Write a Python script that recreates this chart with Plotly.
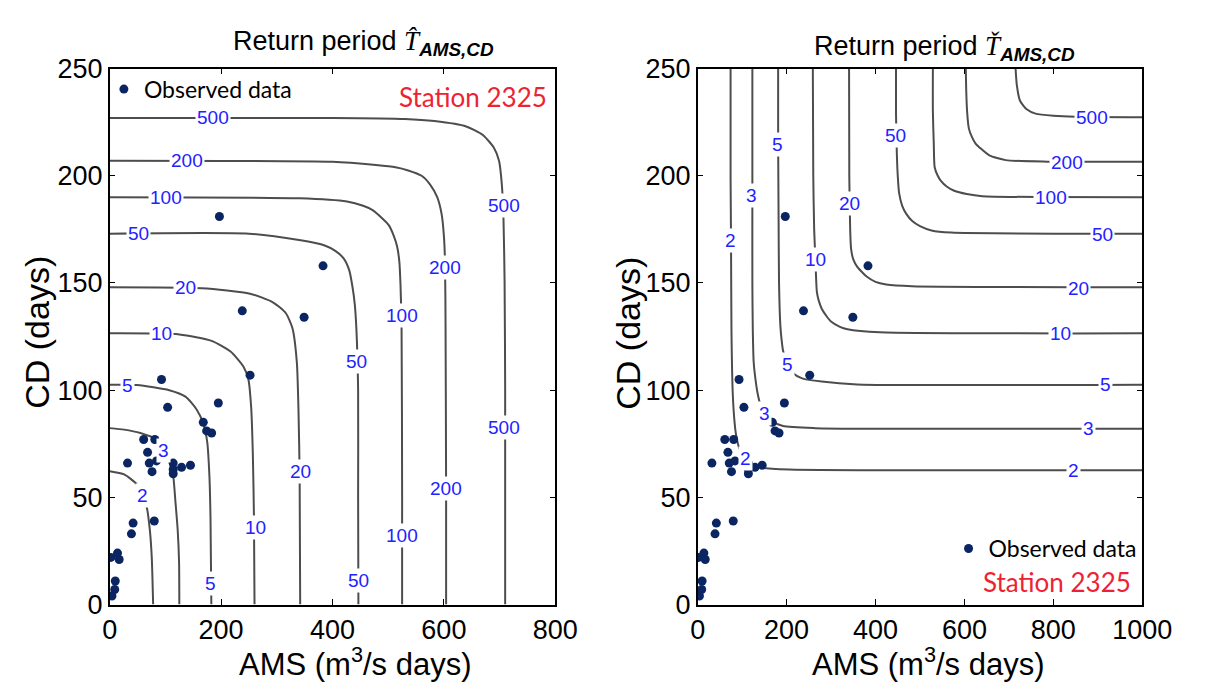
import plotly.graph_objects as go

# Observed (AMS, CD) pairs for station 2325
ams_obs = [197, 383, 238, 349, 252, 93, 195, 104, 168, 174, 183, 61, 81, 68, 84, 71,
           32, 114, 129, 145, 114, 114, 76, 80, 42, 39, 14, 2, 17, 10, 9, 4]
cd_obs = [181, 158, 137, 134, 107, 105, 94, 92, 85, 81, 80, 77, 77, 71, 67, 66,
          66, 66, 64, 65, 63, 61, 62, 39, 38, 33, 24, 22, 21, 11, 7, 4]

return_periods = [2, 3, 5, 10, 20, 50, 100, 200, 500]

# "OR" return-period isolines (left panel), traced point by point
hat_ams = {
    2: [0, 26, 49, 58, 66, 72, 75.5, 78],
    3: [0, 26, 55, 84, 96, 107, 114, 118, 122, 124.5, 125],
    5: [0, 49, 107, 136, 156, 168, 175, 179, 181, 182.5],
    10: [0, 125, 183, 217, 240, 249, 254, 257, 259, 260],
    20: [0, 165, 252, 293, 316, 328, 336, 339, 341, 342],
    50: [0, 250, 340, 386, 405, 420, 430, 436, 440, 443, 446, 446, 446.5],
    100: [0, 340, 426, 455, 472, 490, 501, 510, 516, 520, 522, 524, 525, 525],
    200: [0, 400, 478, 513, 536, 560, 575, 588, 596, 600, 602, 603, 604, 604],
    500: [0, 400, 530, 583, 640, 670, 690, 699, 704, 707, 709, 710, 710],
}
hat_cd = {
    2: [62.2, 60.7, 56, 51, 46, 35, 22, 0],
    3: [82.3, 81.6, 80, 77, 73, 66.7, 60, 48, 35, 20, 0],
    5: [102.5, 102.4, 100, 97, 91, 84.5, 76, 60, 40, 0],
    10: [126.5, 126, 123, 118, 111, 105, 92, 70, 40, 0],
    20: [148, 147.5, 145, 141, 136, 129, 113, 90, 60, 0],
    50: [173, 173, 170, 167.5, 165, 161.5, 156, 148, 140, 128, 100, 50, 0],
    100: [190, 189.5, 188, 186, 184, 180, 177, 172, 167, 160, 150, 130, 50, 0],
    200: [207, 206.5, 205, 204, 202.5, 200, 196, 190, 182, 172, 160, 130, 50, 0],
    500: [227, 227, 226.5, 225.5, 223, 219, 213, 207, 196, 180, 150, 100, 0],
}

# "AND" return-period isolines (right panel)
chk_ams = {
    2: [74, 74, 75, 76, 79, 83, 86.5, 94, 108, 125, 141, 206, 627, 1000],
    3: [123, 123, 123, 124, 126, 130, 134, 140, 150, 166, 192, 264, 410, 1000],
    5: [181, 181, 182, 183, 186, 189, 192, 198, 206, 214, 235, 279, 359, 1000],
    10: [259, 260, 262, 265, 268, 272, 279, 290, 300, 320, 337, 410, 1000],
    20: [340.5, 341, 343, 345, 350, 359, 370, 380, 400, 424, 482, 1000],
    50: [446, 446, 448, 450, 453, 460, 470, 482, 500, 526, 570, 1000],
    100: [529, 529, 531, 533, 540, 547, 560, 577, 605, 640, 1000],
    200: [603, 604, 606, 610, 617, 625, 635, 656, 693, 787, 1000],
    500: [715, 718, 725, 740, 760, 800, 850, 1000],
}
chk_cd = {
    2: [250, 200, 170, 128, 98, 85, 79, 72.6, 68, 65.5, 64, 63, 62.6, 62.6],
    3: [250, 190, 150, 128, 113, 105, 99.4, 94, 89, 85.7, 83.3, 82.3, 82, 82],
    5: [250, 215, 180, 150, 130, 123, 118.5, 114, 110.5, 108, 105.5, 104, 102.7, 102.5],
    10: [250, 200, 175, 160, 146, 142, 138, 134.5, 132, 129.5, 128.4, 127, 126.5],
    20: [250, 200, 175, 166, 161, 157.5, 155, 153, 150.5, 149.3, 148.5, 148],
    50: [250, 230, 210, 200, 192, 186, 182, 179, 176.5, 174.5, 173.5, 173],
    100: [250, 230, 215, 204, 200, 197.6, 195, 193, 191.5, 190.5, 190],
    200: [250, 240, 230, 222, 218, 215, 213, 209.5, 207.3, 206.6, 206.5],
    500: [250, 242, 235, 231, 229, 228, 227.5, 227.3],
}

# Inline contour-label positions: (return period, AMS, CD)
hat_labels = [
    (500, 186, 227), (500, 708, 186), (500, 708, 82.6),
    (200, 139, 207), (200, 602, 157), (200, 604, 54),
    (100, 101, 190), (100, 524.6, 135), (100, 524.6, 32.4),
    (50, 52, 173), (50, 443.5, 113.5), (50, 446, 11),
    (20, 136, 148), (20, 342, 62),
    (10, 93, 126.5), (10, 261, 36),
    (5, 32, 102), (5, 181, 10),
    (3, 96, 72),
    (2, 58, 51),
]
chk_labels = [
    (500, 887, 227),
    (200, 831, 206),
    (100, 794.5, 190),
    (50, 911, 172.6), (50, 446, 219),
    (20, 856, 147.5), (20, 340.6, 187),
    (10, 816, 126.5), (10, 264, 161),
    (5, 918, 102.5), (5, 179, 214.7), (5, 202.6, 112),
    (3, 878, 82), (3, 121, 191), (3, 150, 89),
    (2, 845, 62.6), (2, 74, 169.6), (2, 108, 68),
]

W, H = 1212, 699
LINE_COLOR = "#4d4d4d"
LABEL_BLUE = "#2222ff"
DOT_COLOR = "#0b2462"
STATION_RED = "#ee2233"
SANS = "Liberation Sans, Arial, sans-serif"
CAL = "Lato, Open Sans, sans-serif"

fig = go.Figure()

for T in return_periods:
    fig.add_trace(go.Scatter(
        x=hat_ams[T], y=hat_cd[T], mode="lines",
        line=dict(color=LINE_COLOR, width=2, shape="spline", smoothing=0.6),
        xaxis="x", yaxis="y", showlegend=False, hoverinfo="skip"))
    fig.add_trace(go.Scatter(
        x=chk_ams[T], y=chk_cd[T], mode="lines",
        line=dict(color=LINE_COLOR, width=2, shape="spline", smoothing=0.6),
        xaxis="x2", yaxis="y2", showlegend=False, hoverinfo="skip"))

fig.add_trace(go.Scatter(
    x=ams_obs, y=cd_obs, mode="markers", name="Observed data",
    marker=dict(color=DOT_COLOR, size=9),
    xaxis="x", yaxis="y", legend="legend"))
fig.add_trace(go.Scatter(
    x=ams_obs, y=cd_obs, mode="markers", name="Observed data",
    marker=dict(color=DOT_COLOR, size=9),
    xaxis="x2", yaxis="y2", legend="legend2"))

annotations = []
for T, xv, yv in hat_labels:
    annotations.append(dict(x=xv, y=yv, xref="x", yref="y", text=str(T),
                            showarrow=False, bgcolor="white", borderpad=1,
                            font=dict(family=SANS, size=19, color=LABEL_BLUE)))
for T, xv, yv in chk_labels:
    annotations.append(dict(x=xv, y=yv, xref="x2", yref="y2", text=str(T),
                            showarrow=False, bgcolor="white", borderpad=1,
                            font=dict(family=SANS, size=19, color=LABEL_BLUE)))

def px(xp, yp):
    return xp / W, 1 - yp / H

# Panel titles
t_left = ("Return period <span style='font-family:Liberation Serif'><i>T\u0302</i></span>"
          "<sub><b><i>AMS,CD</i></b></sub>")
t_right = ("Return period <span style='font-family:Liberation Serif'><i>\u0164</i></span>"
           "<sub><b><i>AMS,CD</i></b></sub>")
for txt, (xp, yp) in [(t_left, (367, 29)), (t_right, (967, 35))]:
    xx, yy = px(xp, yp)
    annotations.append(dict(x=xx, y=yy, xref="paper", yref="paper", text=txt,
                            showarrow=False, xanchor="center", yanchor="middle",
                            font=dict(family=SANS, size=27, color="black")))

# Axis titles
for xp in (359, 950):
    xx, yy = px(xp, 676)
    annotations.append(dict(x=xx, y=yy, xref="paper", yref="paper",
                            text="AMS (m<sup>3</sup>/s days)", showarrow=False,
                            xanchor="center", yanchor="middle",
                            font=dict(family=SANS, size=31, color="black")))
for xp in (30, 640):
    xx, yy = px(xp, 332)
    annotations.append(dict(x=xx, y=yy, xref="paper", yref="paper",
                            text="CD (days)", showarrow=False, textangle=-90,
                            xanchor="center", yanchor="middle",
                            font=dict(family=SANS, size=34, color="black")))

# Station tags
for xp, yp in [(480, 86), (1083, 592)]:
    xx, yy = px(xp, yp)
    annotations.append(dict(x=xx, y=yy, xref="paper", yref="paper",
                            text="Station 2325", showarrow=False,
                            xanchor="center", yanchor="middle",
                            font=dict(family=CAL, size=26, color=STATION_RED)))

def xaxis(domain, rng, dtick, anchor):
    return dict(domain=domain, range=rng, dtick=dtick, tick0=0, anchor=anchor,
                showgrid=False, zeroline=False, showline=True, linecolor="black",
                linewidth=1.5, mirror="ticks", ticks="inside", ticklen=6,
                tickcolor="black", tickfont=dict(family=SANS, size=27, color="black"))

def yaxis(anchor):
    return dict(domain=[1 - 616 / H, 1 - 56 / H], range=[0, 250], dtick=50, tick0=0,
                anchor=anchor, showgrid=False, zeroline=False, showline=True,
                linecolor="black", linewidth=1.5, mirror="ticks", ticks="inside",
                ticklen=6, tickcolor="black",
                tickfont=dict(family=SANS, size=27, color="black"))

lx0, ly0 = px(99, 55)
rx0, ry0 = px(971, 535)
fig.update_layout(
    width=W, height=H, autosize=False,
    margin=dict(l=0, r=0, t=0, b=0),
    paper_bgcolor="white", plot_bgcolor="white",
    xaxis=xaxis([105 / W, 565 / W], [0, 800], 200, "y"),
    yaxis=yaxis("x"),
    xaxis2=xaxis([712 / W, 1171 / W], [0, 1000], 200, "y2"),
    yaxis2=yaxis("x2"),
    legend=dict(x=lx0, y=ly0, xanchor="left", yanchor="top", bgcolor="rgba(0,0,0,0)",
                font=dict(family=CAL, size=23, color="black"), itemwidth=30),
    legend2=dict(x=rx0, y=ry0, xanchor="left", yanchor="top", bgcolor="rgba(0,0,0,0)",
                 font=dict(family=CAL, size=23, color="black"), itemwidth=30),
    annotations=annotations,
)

fig.write_html("out.html")
